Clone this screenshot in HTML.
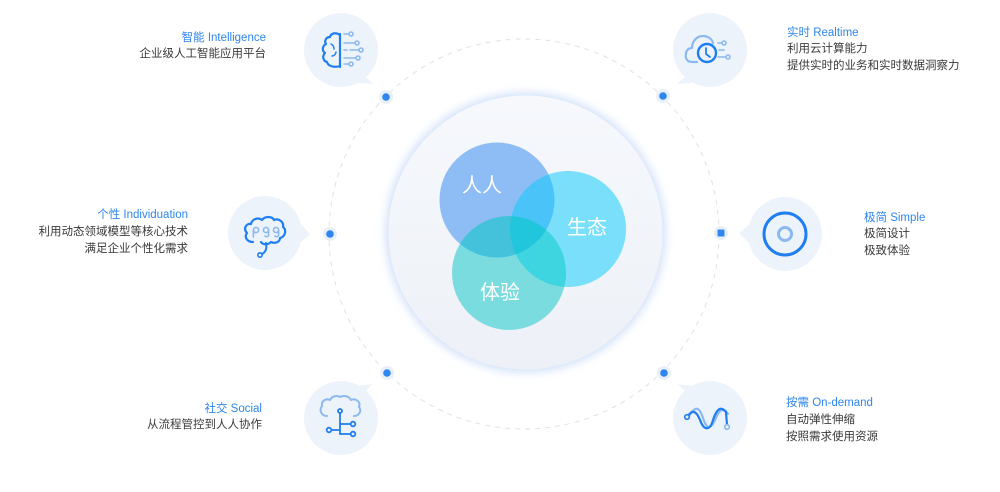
<!DOCTYPE html>
<html>
<head>
<meta charset="utf-8">
<style>
html,body{margin:0;padding:0;background:#fff;}
body{width:1000px;height:492px;overflow:hidden;}
svg{display:block;}
.t{font-family:"Liberation Sans","Noto Sans CJK SC",sans-serif;font-size:11.5px;fill:#3a3a3a;}
.b{fill:#2f86ee;}
.v{font-family:"Liberation Sans","Noto Sans CJK SC",sans-serif;font-size:20px;fill:#fff;}
</style>
</head>
<body>
<svg width="1000" height="492" viewBox="0 0 1000 492" xmlns="http://www.w3.org/2000/svg">
<defs>
  <linearGradient id="cg" x1="0" y1="0" x2="0" y2="1">
    <stop offset="0" stop-color="#f6f8fc"/>
    <stop offset="1" stop-color="#edf1f7"/>
  </linearGradient>
  <filter id="glow" x="-20%" y="-20%" width="140%" height="140%">
    <feGaussianBlur stdDeviation="5"/>
  </filter>
  <clipPath id="c1"><circle cx="497" cy="200" r="57.5"/></clipPath>
  <clipPath id="c2"><circle cx="568" cy="229" r="58"/></clipPath>
</defs>

<!-- dashed orbit -->
<circle cx="524" cy="234" r="195" fill="none" stroke="#e2e2e2" stroke-width="1" stroke-dasharray="5 5"/>

<!-- central circle -->
<circle cx="525.5" cy="232.5" r="139" fill="#c9dcf8" filter="url(#glow)"/>
<circle cx="525.5" cy="232.5" r="137" fill="url(#cg)"/>

<!-- venn -->
<circle cx="497" cy="200" r="57.5" fill="#8ebcf4"/>
<circle cx="568" cy="229" r="58" fill="#7adffb"/>
<circle cx="509" cy="273" r="57" fill="#7adcdf"/>
<circle cx="568" cy="229" r="58" fill="#4ac4f8" clip-path="url(#c1)"/>
<circle cx="509" cy="273" r="57" fill="#44c2dc" clip-path="url(#c1)"/>
<circle cx="509" cy="273" r="57" fill="#3ed4e0" clip-path="url(#c2)"/>
<g clip-path="url(#c2)"><circle cx="509" cy="273" r="57" fill="#22c6dc" clip-path="url(#c1)"/></g>
<text class="v" x="482" y="192" text-anchor="middle">人人</text>
<text class="v" x="587" y="234" text-anchor="middle">生态</text>
<text class="v" x="500" y="299" text-anchor="middle">体验</text>

<!-- dots on orbit -->
<g>
  <circle cx="386" cy="97" r="7" fill="#e8eff9"/><circle cx="386" cy="97" r="3.8" fill="#2f86ee"/>
  <circle cx="663" cy="96" r="7" fill="#e8eff9"/><circle cx="663" cy="96" r="3.8" fill="#2f86ee"/>
  <circle cx="330" cy="234" r="7" fill="#e8eff9"/><circle cx="330" cy="234" r="3.8" fill="#2f86ee"/>
  <circle cx="721" cy="233" r="7" fill="#e8eff9"/><rect x="717.5" y="229.5" width="7" height="7" rx="1" fill="#2f86ee"/>
  <circle cx="387" cy="373" r="7" fill="#e8eff9"/><circle cx="387" cy="373" r="3.8" fill="#2f86ee"/>
  <circle cx="664" cy="373" r="7" fill="#e8eff9"/><circle cx="664" cy="373" r="3.8" fill="#2f86ee"/>
</g>

<!-- bubbles -->
<g fill="#edf3fb">
  <circle cx="341" cy="50" r="37"/><path d="M366 77 L373 84 L358 83 Z"/>
  <circle cx="710" cy="50" r="37"/><path d="M685 77 L677 84 L692 83 Z"/>
  <circle cx="265" cy="233" r="37"/><path d="M299 222 L310 234 L299 244 Z"/>
  <circle cx="785" cy="234" r="37"/><path d="M751 223 L739 233 L751 245 Z"/>
  <circle cx="341" cy="418" r="37"/><path d="M366 391 L372 384 L358 386 Z"/>
  <circle cx="710" cy="418" r="37"/><path d="M685 391 L677 384 L692 386 Z"/>
</g>

<!-- icon: brain intelligence -->
<g fill="none" stroke-linecap="round" stroke-linejoin="round">
  <path d="M340 34 L340 67" stroke="#1f7ef0" stroke-width="2.2"/>
  <path d="M340 35 C336 32 331 33 330 37 C326 37 324 41 326 44 C322 46 322 51 325 53 C322 56 323 61 327 62 C328 66 334 68 340 66" stroke="#1f7ef0" stroke-width="2.2"/>
  <path d="M331 44 C333 45 334 47 334 49 M332 56 C334 56 336 54 336 52" stroke="#1f7ef0" stroke-width="1.5"/>
  <g stroke="#8cb9ef" stroke-width="1.6">
    <path d="M344 34 L349 34"/><circle cx="351" cy="34" r="2"/>
    <path d="M344 43 L355 43"/><circle cx="357" cy="43" r="2"/>
    <path d="M344 50 L347 50 M350 50 L359 50"/><circle cx="361" cy="50" r="2"/>
    <path d="M344 58 L356 58"/><circle cx="358" cy="58" r="2"/>
    <path d="M344 64 L349 64"/><circle cx="351" cy="64" r="2"/>
  </g>
</g>

<!-- icon: cloud clock realtime -->
<g fill="none" stroke-linecap="round" stroke-linejoin="round">
  <path d="M697 62 L692 62 C687 62 685 58 686 54 C686 50 689 48 692 48 C692 41 697 36 703 36 C708 36 712 39 713 43" stroke="#8cb9ef" stroke-width="2.2"/>
  <circle cx="707" cy="53" r="9" stroke="#1f7ef0" stroke-width="2.4" fill="#edf3fb"/>
  <path d="M706 48 L706 54 L710 57" stroke="#1f7ef0" stroke-width="1.8"/>
  <g stroke="#8cb9ef" stroke-width="1.6">
    <path d="M718 43 L722 43"/><circle cx="724" cy="43" r="2"/>
    <path d="M719 50 L724 50"/>
    <path d="M718 57 L726 57"/><circle cx="728" cy="57" r="2"/>
  </g>
</g>

<!-- icon: individuation -->
<g fill="none" stroke-linecap="round" stroke-linejoin="round">
  <path d="M253 242 C247 242 244 237 247 233 C243 229 246 223 251 224 C252 219 258 217 262 220 C265 216 272 216 274 220 C279 218 284 222 283 227 C287 230 285 237 280 238 C280 242 275 244 271 242 C268 245 263 245 261 242" stroke="#1f7ef0" stroke-width="2.2"/>
  <path d="M266 243 C267 248 266 252 262 254" stroke="#1f7ef0" stroke-width="2"/>
  <circle cx="260" cy="255" r="2.2" stroke="#1f7ef0" stroke-width="1.6"/>
  <g stroke="#8cb9ef" stroke-width="1.6">
    <circle cx="256" cy="230" r="2.6"/><path d="M253.4 230 L253.4 237"/>
    <circle cx="266" cy="230" r="2.6"/><path d="M268.6 230 L268.6 235 C268.6 237 266 237 265 236"/>
    <circle cx="276" cy="230" r="2.6"/><path d="M278.6 230 L278.6 235 C278.6 237 276 237 275 236"/>
  </g>
</g>

<!-- icon: simple rings -->
<circle cx="785" cy="234" r="21" fill="none" stroke="#1f7ef0" stroke-width="3"/>
<circle cx="785" cy="234" r="6.5" fill="none" stroke="#8cb9ef" stroke-width="3"/>

<!-- icon: social -->
<g fill="none" stroke-linecap="round" stroke-linejoin="round">
  <path d="M327 416 C321 416 319 410 322 406 C321 401 326 398 330 400 C332 396 337 395 340 397 C344 395 349 396 351 400 C356 398 361 402 359 407 C362 411 359 416 354 416" stroke="#8cb9ef" stroke-width="2"/>
  <g stroke="#1f7ef0" stroke-width="1.8">
    <circle cx="340" cy="411" r="2"/>
    <path d="M340 413 L340 434"/>
    <path d="M331.5 430 L340 430"/><circle cx="329" cy="430" r="2.3"/>
    <path d="M340 424 L350.5 424"/><circle cx="353" cy="424" r="2.3"/>
    <path d="M340 434 L350.5 434"/><circle cx="353" cy="434" r="2.3"/>
  </g>
</g>

<!-- icon: on-demand waves -->
<g fill="none" stroke-linecap="round">
  <path d="M689 416 C695 406 699 406 703 418 C707 430 711 430 716 418 C720 408 724 408 728 414" stroke="#8cb9ef" stroke-width="2.2"/>
  <path d="M688 416 C692 410 696 410 700 420 C704 431 710 431 713 420 C717 408 721 406 726 412 L727 425" stroke="#1f7ef0" stroke-width="2.2"/>
  <circle cx="687" cy="417" r="2.3" stroke="#1f7ef0" stroke-width="1.6" fill="#edf3fb"/>
  <circle cx="727" cy="427" r="2.3" stroke="#8cb9ef" stroke-width="1.6" fill="#edf3fb"/>
</g>

<!-- texts -->
<text class="t b" x="266" y="41" text-anchor="end">智能 Intelligence</text>
<text class="t" x="266" y="57" text-anchor="end">企业级人工智能应用平台</text>

<text class="t b" x="787" y="36">实时 Realtime</text>
<text class="t" x="787" y="52">利用云计算能力</text>
<text class="t" x="787" y="69">提供实时的业务和实时数据洞察力</text>

<text class="t b" x="188" y="218" text-anchor="end">个性 Individuation</text>
<text class="t" x="188" y="235" text-anchor="end">利用动态领域模型等核心技术</text>
<text class="t" x="188" y="252" text-anchor="end">满足企业个性化需求</text>

<text class="t b" x="864" y="221">极简 Simple</text>
<text class="t" x="864" y="237">极简设计</text>
<text class="t" x="864" y="254">极致体验</text>

<text class="t b" x="262" y="412" text-anchor="end">社交 Social</text>
<text class="t" x="262" y="428" text-anchor="end">从流程管控到人人协作</text>

<text class="t b" x="786" y="406">按需 On-demand</text>
<text class="t" x="786" y="423">自动弹性伸缩</text>
<text class="t" x="786" y="440">按照需求使用资源</text>
</svg>
</body>
</html>
